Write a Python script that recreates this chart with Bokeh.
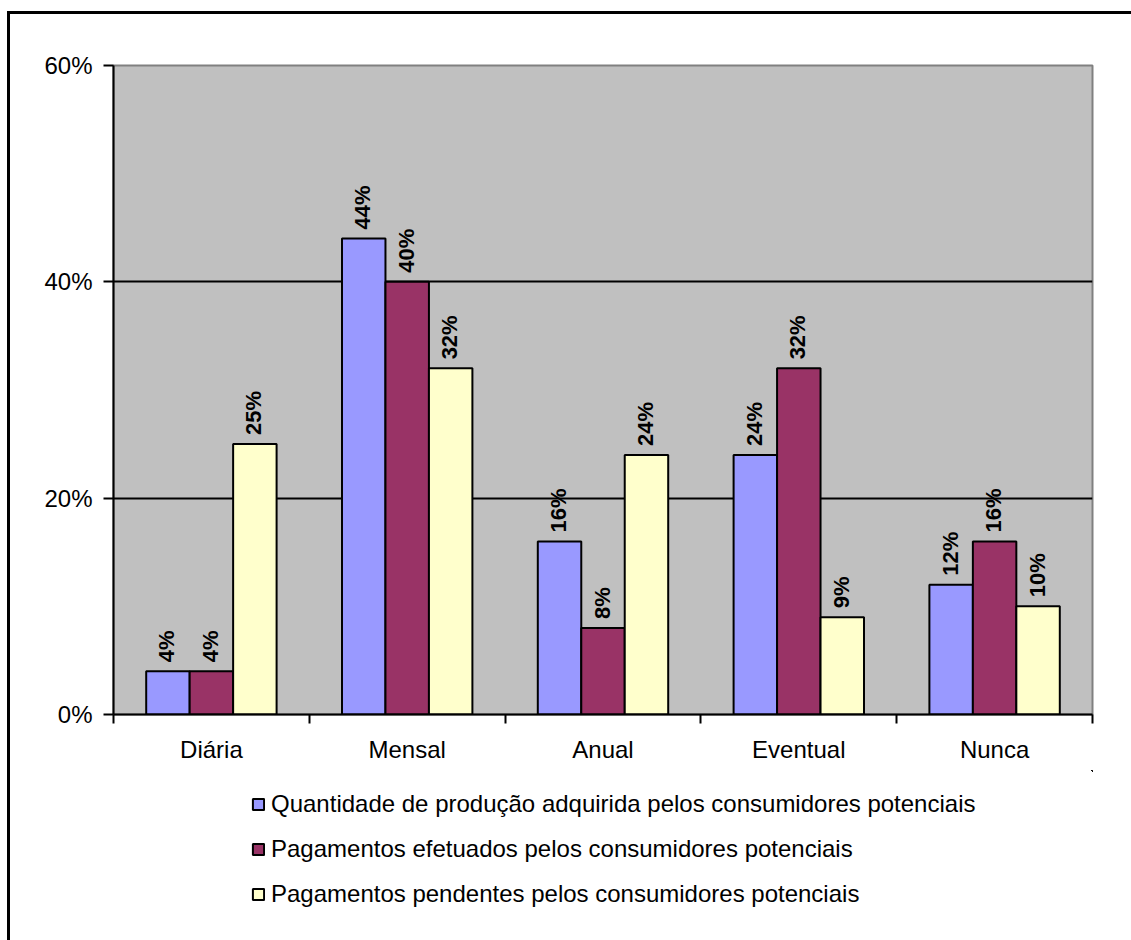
import math
from bokeh.plotting import figure
from bokeh.layouts import column
from bokeh.models import (Range1d, LinearAxis, FixedTicker,
                          NumeralTickFormatter, Legend, LegendItem, ColumnDataSource)
from bokeh.embed import file_html
from bokeh.resources import INLINE
from bokeh.core.properties import value

categories = ["Diária", "Mensal", "Anual", "Eventual", "Nunca"]
series_names = [
    "Quantidade de produção adquirida pelos consumidores potenciais",
    "Pagamentos efetuados pelos consumidores potenciais",
    "Pagamentos pendentes pelos consumidores potenciais",
]
quantidade = [0.04, 0.44, 0.16, 0.24, 0.12]
efetuados = [0.04, 0.40, 0.08, 0.32, 0.16]
pendentes = [0.25, 0.32, 0.24, 0.09, 0.10]
colors = ["#9999FF", "#993366", "#FFFFCC"]
y_ticks = [0, 0.2, 0.4, 0.6]

FONT = value("Liberation Sans")
N = len(categories)
W = 0.222
offsets = [-W, 0, W]
series = [quantidade, efetuados, pendentes]
centers = [i + 0.5 for i in range(N)]
edges = list(range(N + 1))

p = figure(x_range=Range1d(0, N), y_range=Range1d(0, 0.6),
           width=1121, height=756, output_backend="svg", toolbar_location=None,
           x_axis_location=None,
           min_border_left=103, min_border_right=39, min_border_top=51, min_border_bottom=56)

p.background_fill_color = "#C0C0C0"
p.border_fill_color = "white"
p.outline_line_color = "#808080"
p.outline_line_width = 2
p.xgrid.grid_line_color = None
p.ygrid.ticker = FixedTicker(ticks=y_ticks[1:-1])
p.ygrid.grid_line_color = "black"
p.ygrid.grid_line_width = 2

yax = p.yaxis[0]
yax.ticker = FixedTicker(ticks=y_ticks)
yax.formatter = NumeralTickFormatter(format="0%")
yax.major_tick_out = 10
yax.major_tick_in = 0
yax.minor_tick_line_color = None
yax.axis_line_width = 2
yax.major_tick_line_width = 2
yax.major_label_text_font = "Liberation Sans"
yax.major_label_text_font_size = "24px"
yax.major_label_text_color = "black"
yax.major_label_standoff = 11

xax = LinearAxis(ticker=FixedTicker(ticks=centers, minor_ticks=edges),
                 major_label_overrides={c: name for c, name in zip(centers, categories)},
                 axis_line_width=2, axis_line_color="black",
                 major_tick_line_color=None, major_tick_out=0, major_tick_in=0,
                 minor_tick_line_color="black", minor_tick_line_width=2,
                 minor_tick_out=9, minor_tick_in=0,
                 major_label_text_font="Liberation Sans",
                 major_label_text_font_size="24px",
                 major_label_text_color="black",
                 major_label_standoff=12)
p.add_layout(xax, "below")

# legend panel below the chart (its ranges show none of the bars, only the legend)
p2 = figure(x_range=Range1d(-20, -19), y_range=Range1d(-20, -19), width=1121, height=170,
            output_backend="svg", toolbar_location=None,
            x_axis_location=None, y_axis_location=None,
            min_border=0, min_border_left=0, min_border_right=0,
            min_border_top=0, min_border_bottom=0)
p2.outline_line_color = None
p2.background_fill_color = "white"
p2.border_fill_color = "white"
p2.grid.grid_line_color = None

items = []
for i in range(3):
    src = ColumnDataSource(dict(
        x=[c + offsets[i] for c in centers],
        top=series[i],
        lbl=[f"{round(v*100)}%" for v in series[i]],
    ))
    p.vbar(x="x", top="top", width=W, source=src,
           fill_color=colors[i], line_color="black", line_width=2)
    p.text(x="x", y="top", text="lbl", source=src,
           angle=math.pi / 2, text_align="left", text_baseline="middle",
           y_offset=-9, x_offset=-1, text_font=FONT, text_font_style="bold",
           text_font_size="22px", text_color="black")
    key = p2.vbar(x="x", top="top", width=W, source=src,
                  fill_color=colors[i], line_color="black", line_width=2)
    items.append(LegendItem(label=series_names[i], renderers=[key]))

legend = Legend(items=items, location=(138, 32), orientation="vertical",
                glyph_width=14, glyph_height=14, label_height=24, spacing=17,
                label_standoff=6, padding=0, margin=0,
                label_text_font="Liberation Sans", label_text_font_size="24px",
                label_text_color="black",
                border_line_color=None, background_fill_alpha=0)
p2.add_layout(legend, "center")

layout = column(p, p2, spacing=0,
                styles={"margin-left": "7px", "margin-top": "11px",
                        "border-left": "3px solid black", "border-top": "3px solid black"})

open("out.html", "w").write(file_html(layout, INLINE))
